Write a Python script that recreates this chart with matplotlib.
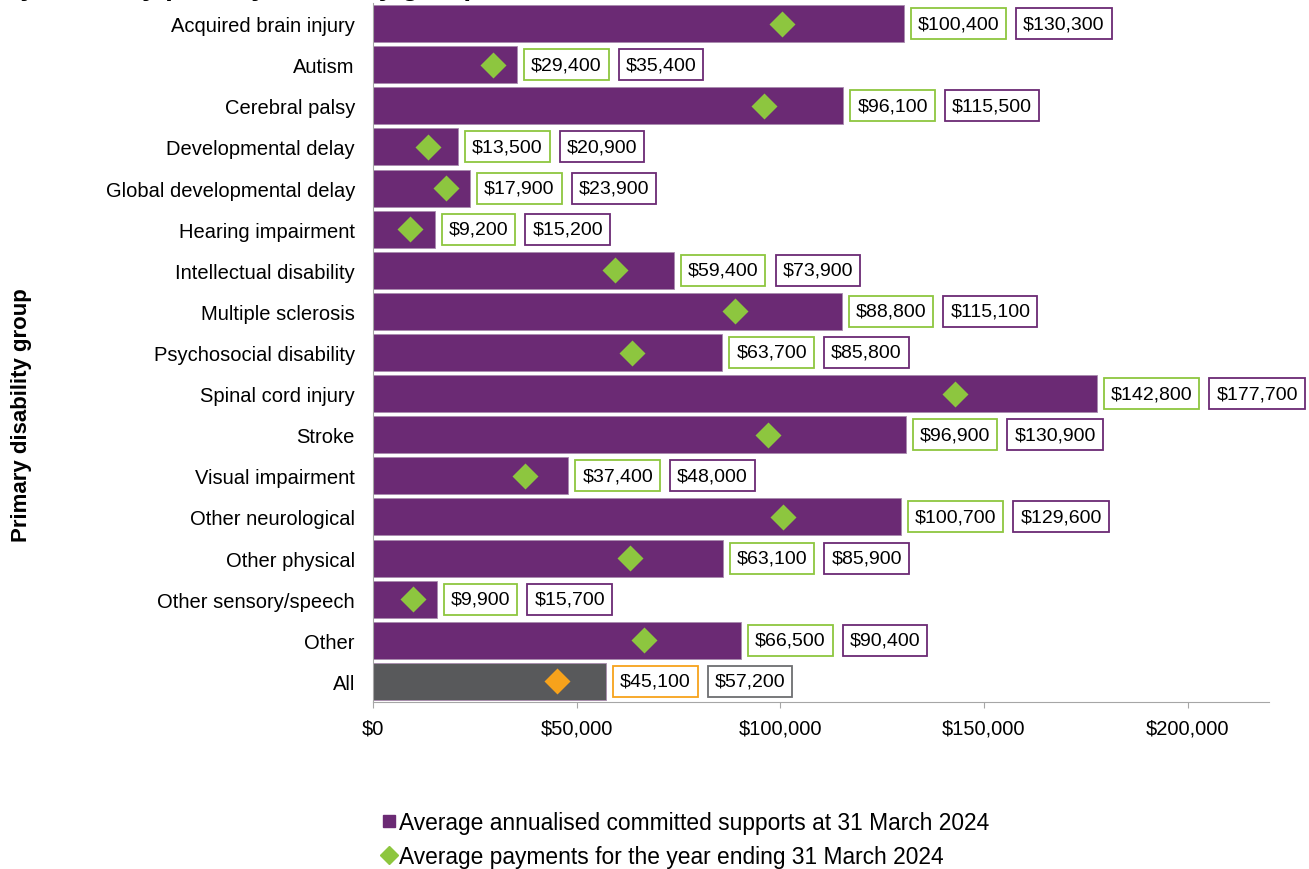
import matplotlib
matplotlib.use('Agg')
import matplotlib.pyplot as plt
from matplotlib.lines import Line2D
import numpy as np

plt.rcParams['font.family'] = ['Liberation Sans', 'DejaVu Sans']

groups = ['Acquired brain injury', 'Autism', 'Cerebral palsy', 'Developmental delay',
          'Global developmental delay', 'Hearing impairment', 'Intellectual disability',
          'Multiple sclerosis', 'Psychosocial disability', 'Spinal cord injury', 'Stroke',
          'Visual impairment', 'Other neurological', 'Other physical',
          'Other sensory/speech', 'Other', 'All']
committed = [130300, 35400, 115500, 20900, 23900, 15200, 73900, 115100, 85800,
             177700, 130900, 48000, 129600, 85900, 15700, 90400, 57200]
payments = [100400, 29400, 96100, 13500, 17900, 9200, 59400, 88800, 63700,
            142800, 96900, 37400, 100700, 63100, 9900, 66500, 45100]
xticks = [0, 50000, 100000, 150000, 200000]

purple = '#6B2A74'
green = '#8DC63F'
grey = '#58595B'
orange = '#F7A21B'

W, H = 1309, 870
fig = plt.figure(figsize=(W / 100, H / 100), dpi=100)
ax = fig.add_axes([373 / W, 1 - 703 / H, 896 / W, 699 / H])

n = len(groups)
y = np.arange(n)
bar_cols = [purple] * (n - 1) + [grey]
dia_cols = [green] * (n - 1) + [orange]
box_cols = [purple] * (n - 1) + ['#6D6E71']

ax.barh(y, committed, height=0.9, color=bar_cols, edgecolor='#A98BAE', linewidth=0.6)
for i in range(n):
    ax.plot(payments[i], y[i], marker='D', ms=13, color=dia_cols[i], mec='none', zorder=3)
    t1 = ax.annotate('${:,}'.format(payments[i]), xy=(committed[i], y[i]),
                     xytext=(10, 0), textcoords='offset points', va='center', ha='left',
                     fontsize=14,
                     bbox=dict(boxstyle='square,pad=0.36', fc='white', ec=dia_cols[i], lw=1.3))
    ax.annotate('${:,}'.format(committed[i]), xy=(1, 0.5), xycoords=t1,
                xytext=(17.3, 0), textcoords='offset points', va='center', ha='left',
                fontsize=14,
                bbox=dict(boxstyle='square,pad=0.36', fc='white', ec=box_cols[i], lw=1.3))

ax.set_ylim(n - 0.5, -0.5)
ax.set_xlim(0, 220000)
ax.set_yticks(y)
ax.set_yticklabels(groups, fontsize=14.5)
ax.set_xticks(xticks)
ax.set_xticklabels(['${:,}'.format(v) for v in xticks], fontsize=14.5)
ax.tick_params(axis='y', length=0, pad=13)
ax.tick_params(axis='x', length=4, color='#A6A6A6', pad=8)
for s in ['top', 'right']:
    ax.spines[s].set_visible(False)
ax.spines['left'].set_color('#A6A6A6')
ax.spines['bottom'].set_color('#A6A6A6')

fig.text(22 / W, 1 - 415 / H, 'Primary disability group', rotation=90, fontsize=16,
         fontweight='bold', ha='center', va='center')

# title, cut off at the top edge like in the source image
fig.text(480 / W, 1 + 5 / H, 'Average payments by primary disability group',
         fontsize=20, fontweight='bold', ha='right', va='baseline')

handles = [Line2D([], [], marker='s', ls='none', ms=9, color=purple),
           Line2D([], [], marker='D', ls='none', ms=9, color=green)]
fig.legend(handles, ['Average annualised committed supports at 31 March 2024',
                     'Average payments for the year ending 31 March 2024'],
           loc='upper left', bbox_to_anchor=(382 / W, 1 - 812 / H), frameon=False,
           fontsize=16.4, handlelength=0.6, handletextpad=0.15, labelspacing=0.5,
           borderaxespad=0, borderpad=0)

fig.savefig('out.png', dpi=100)
